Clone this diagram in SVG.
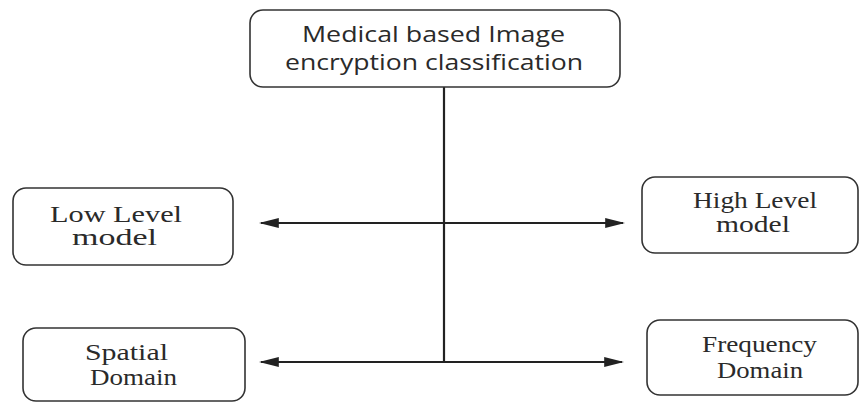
<svg xmlns="http://www.w3.org/2000/svg" width="860" height="403" viewBox="0 0 860 403">
<style>
.box{fill:#fff;stroke:#333;stroke-width:1.6}
.sans{font-family:"Open Sans","Liberation Sans",sans-serif;font-size:21px;fill:#2a2a2a}
.serif{font-family:"Liberation Serif","Times New Roman",serif;font-size:23px;fill:#2a2a2a}
.ln{stroke:#222;stroke-width:2.2;fill:none}
</style>
<defs>
<marker id="ah" viewBox="0 0 10 10" refX="9" refY="5" markerWidth="9" markerHeight="5" markerUnits="strokeWidth" orient="auto-start-reverse" preserveAspectRatio="none">
<path d="M0,0.5 L10,5 L0,9.5 z" fill="#222"/>
</marker>
</defs>
<rect width="860" height="403" fill="#fff"/>
<g id="connectors">
<line class="ln" x1="444" y1="87" x2="444" y2="362"/>
<line class="ln" x1="261" y1="223" x2="623" y2="223" marker-start="url(#ah)" marker-end="url(#ah)"/>
<line class="ln" x1="261" y1="362" x2="622" y2="362" marker-start="url(#ah)" marker-end="url(#ah)"/>
</g>
<g id="root">
<rect class="box" x="250" y="10" width="370" height="77" rx="13"/>
<text class="sans" x="302" y="42" textLength="263" lengthAdjust="spacingAndGlyphs">Medical based Image</text>
<text class="sans" x="285" y="70" textLength="298" lengthAdjust="spacingAndGlyphs">encryption classification</text>
</g>
<g id="low">
<rect class="box" x="13" y="188" width="220" height="77" rx="13"/>
<text class="serif" x="50" y="222" textLength="132" lengthAdjust="spacingAndGlyphs">Low Level</text>
<text class="serif" x="72" y="245" textLength="85" lengthAdjust="spacingAndGlyphs">model</text>
</g>
<g id="high">
<rect class="box" x="642" y="177" width="216" height="76" rx="13"/>
<text class="serif" x="693" y="208" textLength="124" lengthAdjust="spacingAndGlyphs">High Level</text>
<text class="serif" x="716" y="232" textLength="74" lengthAdjust="spacingAndGlyphs">model</text>
</g>
<g id="spatial">
<rect class="box" x="23" y="328" width="222" height="73" rx="13"/>
<text class="serif" x="85" y="360" textLength="83" lengthAdjust="spacingAndGlyphs">Spatial</text>
<text class="serif" x="90" y="385" textLength="87" lengthAdjust="spacingAndGlyphs">Domain</text>
</g>
<g id="frequency">
<rect class="box" x="647" y="320" width="211" height="75" rx="13"/>
<text class="serif" x="702" y="352" textLength="115" lengthAdjust="spacingAndGlyphs">Frequency</text>
<text class="serif" x="717" y="378" textLength="86" lengthAdjust="spacingAndGlyphs">Domain</text>
</g>
</svg>
